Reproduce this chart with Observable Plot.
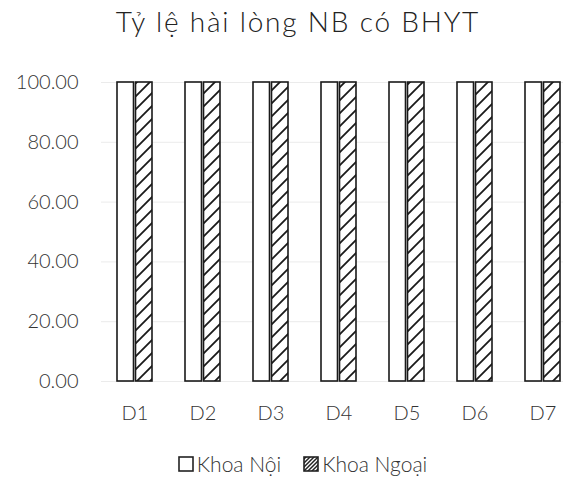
<!DOCTYPE html>
<html><head><meta charset="utf-8">
<script src="https://cdn.jsdelivr.net/npm/d3@7"></script>
<script src="https://cdn.jsdelivr.net/npm/@observablehq/plot@0.6"></script>
<style>
body{margin:0;background:#fff;font-family:Lato,"Open Sans",sans-serif;font-weight:300;overflow:hidden;width:563px;height:480px}
#title{box-sizing:border-box;height:50px;padding-top:7px;padding-left:33px;text-align:center;font-size:28px;line-height:28px;letter-spacing:1.8px;color:#222;white-space:nowrap}
#chart{height:390px}
#legend{margin-top:14px;padding-left:42px;text-align:center;font-size:21px;line-height:20px;color:#333;white-space:nowrap}
.item{display:inline-flex;align-items:center;margin:0 11px}
.item svg{margin-right:3px}
svg text{font-weight:300}
</style></head><body>
<svg width="0" height="0" style="position:absolute">
  <defs>
    <pattern id="hatch" patternUnits="userSpaceOnUse" width="13" height="13">
      <rect width="13" height="13" fill="#fff"></rect>
      <path d="M0,13 L13,0 M-3,3 L3,-3 M10,16 L16,10" stroke="#1a1a1a" stroke-width="1.8"></path>
    </pattern>
    <pattern id="hatchSmall" patternUnits="userSpaceOnUse" width="4" height="4">
      <rect width="4" height="4" fill="#fff"></rect>
      <path d="M0,4 L4,0 M-1,1 L1,-1 M3,5 L5,3" stroke="#222" stroke-width="1.5"></path>
    </pattern>
  </defs>
</svg>
<div id="title">Tỷ lệ hài lòng NB có BHYT</div>
<div id="chart"></div>
<div id="legend"></div>
<script>
const categories = ["D1", "D2", "D3", "D4", "D5", "D6", "D7"];
const seriesNames = ["Khoa Nội", "Khoa Ngoại"];
const khoaNoi = [100, 100, 100, 100, 100, 100, 100];
const khoaNgoai = [100, 100, 100, 100, 100, 100, 100];
const yTicks = [0, 20, 40, 60, 80, 100];

const plot = Plot.plot({
  width: 563,
  height: 390,
  marginLeft: 101,
  marginRight: -14,
  marginTop: 32,
  marginBottom: 59,
  x: {domain: categories, paddingInner: 0.48, paddingOuter: 0.24, label: null},
  y: {domain: [0, 100], label: null},
  style: {fontFamily: "Lato, 'Open Sans', sans-serif", color: "#333", background: "transparent", overflow: "hidden"},
  marks: [
    Plot.ruleY(yTicks, {stroke: "#ebebeb", strokeWidth: 1}),
    Plot.barY(categories, {x: d => d, y: (d, i) => khoaNoi[i], insetRight: 18.5, fill: "#ffffff", stroke: "#1a1a1a", strokeWidth: 1.6}),
    Plot.barY(categories, {x: d => d, y: (d, i) => khoaNgoai[i], insetLeft: 18.5, fill: "url(#hatch)", stroke: "#1a1a1a", strokeWidth: 1.6}),
    Plot.axisY(yTicks, {tickSize: 0, tickPadding: 23, tickFormat: d3.format(".2f"), fontSize: 20, label: null}),
    Plot.axisX({tickSize: 0, tickPadding: 24, fontSize: 20, label: null})
  ]
});
document.getElementById("chart").appendChild(plot);

const legend = document.getElementById("legend");
const swatchFills = ["#ffffff", "url(#hatchSmall)"];
seriesNames.forEach((name, i) => {
  const item = document.createElement("span");
  item.className = "item";
  item.innerHTML = `<svg width="16" height="16"><rect x="1" y="1" width="14" height="14" fill="${swatchFills[i]}" stroke="#222" stroke-width="1.6"></rect></svg>`;
  const t = document.createElement("span");
  t.textContent = name;
  item.appendChild(t);
  legend.appendChild(item);
});
</script>
</body></html>
